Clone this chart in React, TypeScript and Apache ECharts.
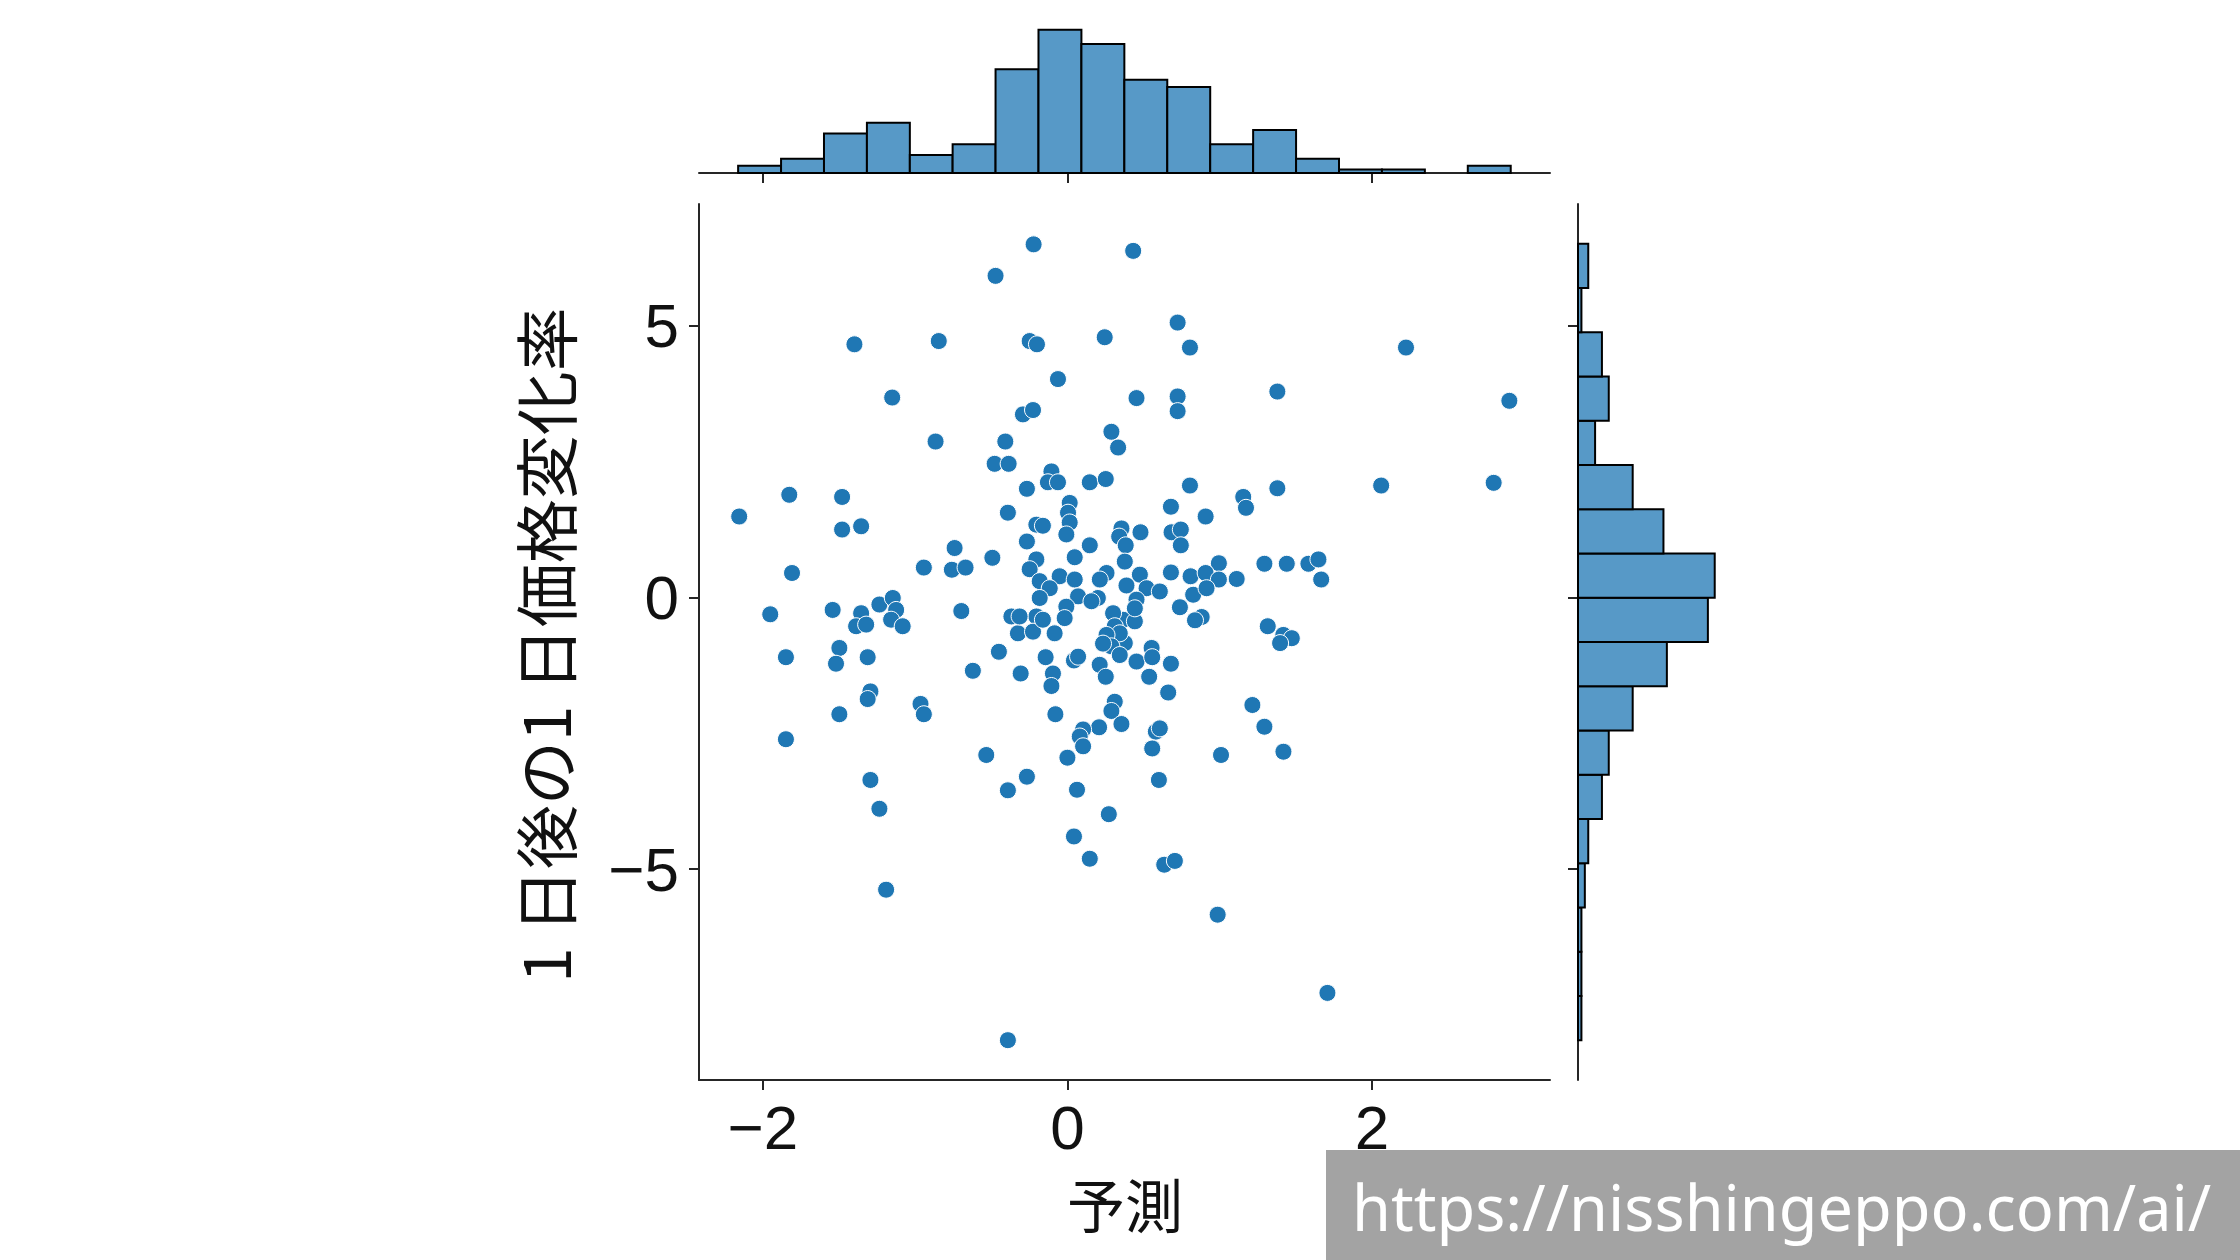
import React, { useEffect, useRef } from "react";
import * as echarts from "echarts";

const X_LABEL = "予測";
const Y_LABEL = "1 日後の1 日価格変化率";
const WATERMARK = "https://nisshingeppo.com/ai/";

const xTicks = [-2, 0, 2];
const yTicks = [-5, 0, 5];

// scatter points [予測, 1日後の1日価格変化率]
const upperPoints: [number, number][] = [
  [-0.222, 6.5], [-0.472, 5.92], [0.432, 6.38], [-1.399, 4.66], [-0.845, 4.72],
  [-0.248, 4.72], [-0.2, 4.66], [0.245, 4.79], [-0.062, 4.02], [-1.151, 3.68],
  [-0.292, 3.37], [-0.226, 3.45], [0.289, 3.05], [0.333, 2.76], [0.454, 3.67],
  [-0.866, 2.87], [-0.408, 2.87], [0.724, 5.06], [0.805, 4.6], [2.224, 4.6],
  [0.724, 3.7], [0.724, 3.43], [1.379, 3.79], [2.903, 3.62],
];

const middlePoints: [number, number][] = [
  [-0.478, 2.46], [-0.386, 2.46], [-0.105, 2.32], [-0.128, 2.12], [-0.062, 2.12],
  [-0.266, 2.0], [0.147, 2.12], [0.252, 2.18], [-2.156, 1.49], [-1.827, 1.89],
  [-1.48, 1.85], [-1.48, 1.25], [-1.355, 1.31], [-0.391, 1.56], [0.015, 1.74],
  [0.004, 1.56], [0.015, 1.38], [-0.007, 1.16], [-0.204, 1.34], [-0.161, 1.32],
  [-0.266, 1.03], [0.147, 0.96], [0.355, 1.27], [0.34, 1.12], [0.383, 0.96],
  [0.048, 0.74], [-0.204, 0.7], [-0.248, 0.52], [-0.741, 0.91], [-0.493, 0.73],
  [-0.943, 0.55], [-0.759, 0.51], [-0.669, 0.55], [-1.809, 0.45], [-0.182, 0.3],
  [-0.051, 0.39], [0.048, 0.33], [-0.116, 0.17], [0.257, 0.45], [0.213, 0.33],
  [0.377, 0.66], [-0.182, -0.01], [0.07, 0.02], [0.2, -0.01], [-0.007, -0.17],
  [-1.952, -0.31], [-1.542, -0.23], [-1.355, -0.29], [-1.388, -0.53], [-1.322, -0.5],
  [-1.235, -0.13], [-1.147, -0.01], [-1.125, -0.23], [-1.158, -0.41], [-1.082, -0.53],
  [-0.697, -0.25], [-0.368, -0.35], [-0.325, -0.66], [-0.204, -0.35], [-0.226, -0.63],
  [-0.161, -0.41], [-0.084, -0.66], [-0.018, -0.38], [-0.314, -0.35], [0.158, -0.07],
  [0.805, 2.06], [1.379, 2.01], [2.061, 2.06], [2.8, 2.11], [0.68, 1.67],
  [0.908, 1.49], [1.155, 1.85], [1.173, 1.65], [0.48, 1.2], [0.684, 1.2],
  [0.745, 1.25], [0.745, 0.96], [0.68, 0.46], [0.476, 0.42], [0.995, 0.63],
  [0.809, 0.39], [0.908, 0.45], [0.995, 0.33], [1.112, 0.34], [1.294, 0.62],
  [1.441, 0.62], [1.583, 0.62], [1.649, 0.7], [1.667, 0.33], [0.388, 0.22],
  [0.52, 0.17], [0.607, 0.11], [0.454, -0.04], [0.826, 0.05], [0.914, 0.17],
  [0.739, -0.18], [0.882, -0.36], [0.838, -0.42], [0.366, -0.41], [0.443, -0.44],
  [0.377, -0.84], [1.316, -0.53], [1.418, -0.69], [1.474, -0.75], [1.397, -0.84],
  [0.553, -0.93], [0.3, -0.29], [0.311, -0.53], [0.344, -0.66], [0.257, -0.69],
  [0.443, -0.2], [0.289, -0.9], [0.234, -0.85],
];

const lowerPoints: [number, number][] = [
  [-1.849, -1.1], [-1.849, -2.61], [-1.498, -0.93], [-1.52, -1.22], [-1.312, -1.1],
  [-1.498, -2.15], [-1.294, -1.73], [-1.312, -1.87], [-1.294, -3.36], [-1.235, -3.89],
  [-1.191, -5.38], [-0.965, -1.96], [-0.943, -2.15], [-0.621, -1.35], [-0.45, -1.0],
  [-0.307, -1.4], [-0.143, -1.1], [-0.095, -1.4], [-0.105, -1.63], [-0.079, -2.15],
  [0.043, -1.16], [0.07, -1.09], [0.212, -1.24], [0.252, -1.46], [0.344, -1.06],
  [0.311, -1.92], [0.289, -2.09], [0.355, -2.33], [0.208, -2.39], [0.103, -2.43],
  [0.081, -2.56], [0.103, -2.74], [0.0, -2.95], [-0.533, -2.9], [-0.266, -3.3],
  [-0.391, -3.55], [0.063, -3.54], [0.272, -3.99], [0.043, -4.4], [0.147, -4.81],
  [-0.391, -8.15], [0.454, -1.18], [0.557, -1.1], [0.68, -1.22], [0.537, -1.46],
  [0.662, -1.75], [0.581, -2.47], [0.607, -2.41], [0.557, -2.78], [0.601, -3.36],
  [1.009, -2.9], [1.215, -1.98], [1.294, -2.38], [1.419, -2.84], [0.636, -4.92],
  [0.706, -4.85], [0.987, -5.84], [1.708, -7.28],
];

// marginal histogram of 予測 (top)
const xHistEdges = [
  -2.163, -1.881, -1.599, -1.317, -1.035, -0.754, -0.472, -0.19, 0.092, 0.374,
  0.656, 0.938, 1.22, 1.502, 1.784, 2.066, 2.348, 2.63, 2.912,
];
const xHistCounts = [2, 4, 11, 14, 5, 8, 29, 40, 36, 26, 24, 8, 12, 4, 1, 1, 0, 2];

// marginal histogram of 1日後の1日価格変化率 (right), ascending
const yHistEdges = [
  -8.15, -7.336, -6.521, -5.707, -4.892, -4.078, -3.263, -2.449, -1.635, -0.82,
  -0.006, 0.809, 1.623, 2.438, 3.252, 4.067, 4.881, 5.696, 6.51,
];
const yHistCounts = [1, 1, 1, 2, 3, 7, 9, 16, 26, 38, 40, 25, 16, 5, 9, 7, 1, 3];

const X_MIN = -2.42;
const X_MAX = 3.17;
const Y_MIN = -8.883;
const Y_MAX = 7.243;

const AXIS_COLOR = "#262626";
const POINT_COLOR = "#1f77b4";
const BAR_FILL = "#5799c7";
const TICK_FONT = '"Liberation Sans", Arial, sans-serif';
const CJK_FONT = '"Noto Sans CJK JP", "Noto Sans CJK SC", sans-serif';

const fmt = (v: number) => (v < 0 ? "\u2212" + Math.abs(v) : String(v));

export default function App() {
  const ref = useRef<HTMLDivElement>(null);

  useEffect(() => {
    if (!ref.current) return;
    const chart = echarts.init(ref.current, undefined, { renderer: "svg" });

    const axisLine = { show: true, onZero: false, lineStyle: { color: AXIS_COLOR, width: 2 } };
    const tickStyle = { color: AXIS_COLOR, width: 2 };

    const topData = xHistCounts
      .map((c, i) => [xHistEdges[i], xHistEdges[i + 1], c])
      .filter((d) => d[2] > 0);
    const rightData = yHistCounts
      .map((c, i) => [yHistEdges[i], yHistEdges[i + 1], c])
      .filter((d) => d[2] > 0);

    const option: any = {
      animation: false,
      backgroundColor: "#ffffff",
      grid: [
        { left: 699, top: 204, width: 851, height: 876, outerBoundsMode: "none", containLabel: false },
        { left: 699, top: 0, width: 851, height: 173, outerBoundsMode: "none", containLabel: false },
        { left: 1578, top: 204, width: 175, height: 876, outerBoundsMode: "none", containLabel: false },
      ],
      xAxis: [
        {
          gridIndex: 0,
          type: "value",
          min: X_MIN,
          max: X_MAX,
          splitLine: { show: false },
          axisLine,
          axisTick: { show: true, length: 10, lineStyle: tickStyle, customValues: xTicks },
          axisLabel: {
            customValues: xTicks,
            formatter: fmt,
            fontSize: 62,
            fontFamily: TICK_FONT,
            color: "#111",
            margin: 16,
          },
        },
        {
          gridIndex: 1,
          type: "value",
          min: X_MIN,
          max: X_MAX,
          splitLine: { show: false },
          axisLine,
          axisTick: { show: true, length: 10, lineStyle: tickStyle, customValues: xTicks },
          axisLabel: { show: false },
        },
        { gridIndex: 2, type: "value", min: 0, max: 51.2, show: false, splitLine: { show: false } },
      ],
      yAxis: [
        {
          gridIndex: 0,
          type: "value",
          min: Y_MIN,
          max: Y_MAX,
          splitLine: { show: false },
          axisLine,
          axisTick: { show: true, length: 10, lineStyle: tickStyle, customValues: yTicks },
          axisLabel: {
            customValues: yTicks,
            formatter: fmt,
            fontSize: 62,
            fontFamily: TICK_FONT,
            color: "#111",
            margin: 20,
          },
        },
        { gridIndex: 1, type: "value", min: 0, max: 48.3, show: false, splitLine: { show: false } },
        {
          gridIndex: 2,
          type: "value",
          min: Y_MIN,
          max: Y_MAX,
          splitLine: { show: false },
          axisLine,
          axisTick: { show: true, length: 10, lineStyle: tickStyle, customValues: yTicks },
          axisLabel: { show: false },
        },
      ],
      series: [
        {
          type: "scatter",
          xAxisIndex: 0,
          yAxisIndex: 0,
          data: [...upperPoints, ...middlePoints, ...lowerPoints],
          symbol: "circle",
          symbolSize: 17,
          itemStyle: { color: POINT_COLOR, borderColor: "#ffffff", borderWidth: 1, opacity: 1 },
        },
        {
          type: "custom",
          xAxisIndex: 1,
          yAxisIndex: 1,
          data: topData,
          encode: { x: [0, 1], y: 2 },
          renderItem: (_p: any, api: any) => {
            const a = api.coord([api.value(0), api.value(2)]);
            const b = api.coord([api.value(1), 0]);
            return {
              type: "rect",
              shape: { x: a[0], y: a[1], width: b[0] - a[0], height: b[1] - a[1] },
              style: { fill: BAR_FILL, stroke: "#000", lineWidth: 2 },
            };
          },
        },
        {
          type: "custom",
          xAxisIndex: 2,
          yAxisIndex: 2,
          data: rightData,
          encode: { x: 2, y: [0, 1] },
          renderItem: (_p: any, api: any) => {
            const a = api.coord([api.value(2), api.value(1)]);
            const b = api.coord([0, api.value(0)]);
            return {
              type: "rect",
              shape: { x: b[0], y: a[1], width: a[0] - b[0], height: b[1] - a[1] },
              style: { fill: BAR_FILL, stroke: "#000", lineWidth: 2 },
            };
          },
        },
      ],
      graphic: [
        {
          type: "text",
          x: 1125,
          y: 1203,
          style: {
            text: X_LABEL,
            fontSize: 58,
            fontFamily: CJK_FONT,
            fill: "#111",
            align: "center",
            verticalAlign: "middle",
            textAlign: "center",
            textVerticalAlign: "middle",
          },
        },
        {
          type: "text",
          x: 543,
          y: 645,
          rotation: Math.PI / 2,
          style: {
            text: Y_LABEL,
            fontSize: 64,
            fontFamily: CJK_FONT,
            fill: "#111",
            align: "center",
            verticalAlign: "middle",
            textAlign: "center",
            textVerticalAlign: "middle",
          },
        },
        {
          type: "rect",
          z: 100,
          shape: { x: 1326, y: 1150, width: 914, height: 110 },
          style: { fill: "#a3a3a3" },
        },
        {
          type: "text",
          z: 101,
          x: 1352,
          y: 1206,
          style: {
            text: WATERMARK,
            fontSize: 63,
            fontFamily: '"Noto Sans", sans-serif',
            fill: "#ffffff",
            align: "left",
            verticalAlign: "middle",
            textAlign: "left",
            textVerticalAlign: "middle",
          },
        },
      ],
    };

    chart.setOption(option);
    return () => chart.dispose();
  }, []);

  return (
    <div
      style={{ position: "fixed", left: 0, top: 0, width: 2240, height: 1260, background: "#fff" }}
    >
      <div ref={ref} style={{ width: 2240, height: 1260 }} />
    </div>
  );
}
